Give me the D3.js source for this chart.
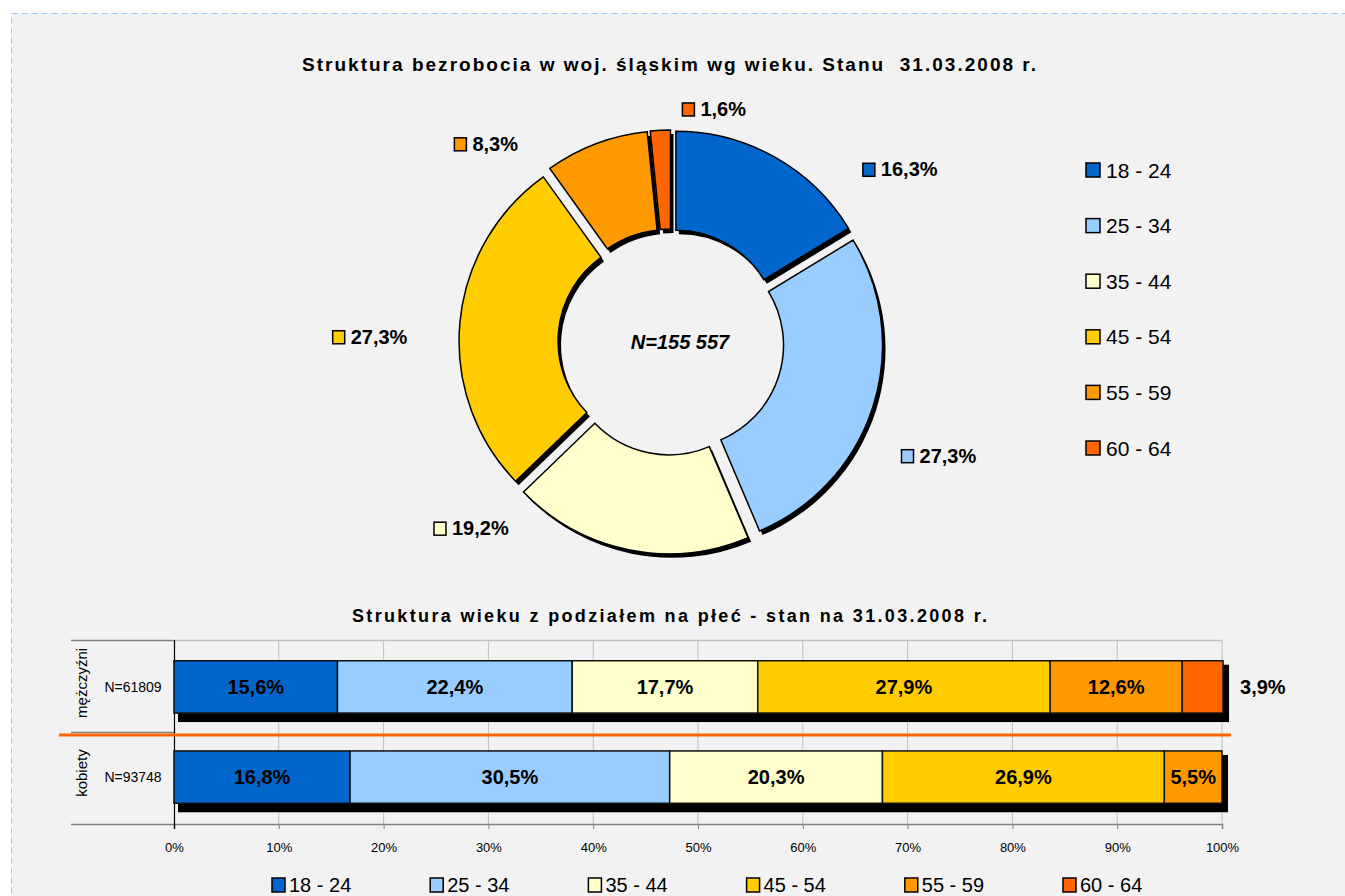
<!DOCTYPE html>
<html>
<head>
<meta charset="utf-8">
<script src="https://cdn.jsdelivr.net/npm/d3@7"></script>
<style>
  body { margin: 0; background: #fff; }
  svg { display: block; font-family: Arial, "Liberation Sans", Helvetica, sans-serif; }
</style>
</head>
<body>
<svg id="chart" width="1345" height="896"></svg>
<script>
//Data
var ageGroups = ["18 - 24", "25 - 34", "35 - 44", "45 - 54", "55 - 59", "60 - 64"];
var ageColors = ["#0066cc", "#99ccff", "#ffffcc", "#ffcc00", "#ff9900", "#ff6600"];
var totalShares = [16.3, 27.3, 19.2, 27.3, 8.3, 1.6];
var totalLabel = "N=155 557";
var sexes = ["mężczyźni", "kobiety"];
var sexCounts = ["N=61809", "N=93748"];
var menShares = [15.6, 22.4, 17.7, 27.9, 12.6, 3.9];
var womenShares = [16.8, 30.5, 20.3, 26.9, 5.5, 0];
var xTicks = [0, 10, 20, 30, 40, 50, 60, 70, 80, 90, 100];
var pieTitle = "Struktura bezrobocia w woj. śląskim wg wieku. Stanu  31.03.2008 r.";
var barTitle = "Struktura wieku z podziałem na płeć - stan na 31.03.2008 r.";

//Helpers
var fmt = v => d3.format(".1f")(v).replace(".", ",") + "%";
var color = d3.scaleOrdinal().domain(ageGroups).range(ageColors);

var svg = d3.select("#chart");

//Background panel with dashed border
svg.append("rect")
  .attr("x", 11.5).attr("y", 13.5)
  .attr("width", 1340).attr("height", 900)
  .style("fill", "#f2f2f2")
  .style("stroke", "#99c9ff")
  .style("stroke-dasharray", "6,4");

//Titles
function title(txt, cx, y, size, width) {
  svg.append("text")
    .attr("x", cx).attr("y", y)
    .attr("text-anchor", "middle")
    .attr("textLength", width)
    .attr("lengthAdjust", "spacing")
    .style("font-weight", "bold")
    .style("font-size", size + "px")
    .style("white-space", "pre")
    .text(txt);
}
title(pieTitle, 669, 71, 19, 734);
title(barTitle, 669.5, 622, 18, 635);

//---------------- Doughnut ----------------
var cx = 671, cy = 342, rOut = 202, rIn = 103, explode = 10;
var shadow = {dx: 3, dy: 4};

var pie = d3.pie().sort(null).value(d => d);
var arcs = pie(totalShares);
var arc = d3.arc().innerRadius(rIn).outerRadius(rOut);

var gPie = svg.append("g").attr("transform", "translate(" + cx + "," + cy + ")");

function offset(d) {
  var a = (d.startAngle + d.endAngle) / 2;
  return [explode * Math.sin(a), -explode * Math.cos(a)];
}

//Shadows first
gPie.selectAll(".shadow")
  .data(arcs)
  .enter()
  .append("path")
  .attr("class", "shadow")
  .attr("d", arc)
  .attr("transform", d => { var o = offset(d); return "translate(" + (o[0] + shadow.dx) + "," + (o[1] + shadow.dy) + ")"; })
  .style("fill", "#000");

//Slices
gPie.selectAll(".slice")
  .data(arcs)
  .enter()
  .append("path")
  .attr("class", "slice")
  .attr("d", arc)
  .attr("transform", d => { var o = offset(d); return "translate(" + o[0] + "," + o[1] + ")"; })
  .style("fill", (d, i) => ageColors[i])
  .style("stroke", "#000")
  .style("stroke-width", 1.5);

//Centre text
gPie.append("text")
  .attr("x", 9).attr("y", 7)
  .attr("text-anchor", "middle")
  .style("font-weight", "bold")
  .style("font-style", "italic")
  .style("font-size", "20px")
  .text(totalLabel);

//Slice labels (best-fit positions as angle in degrees / radius)
var labelSpots = [[53, 287], [113, 291], [227, 273], [271, 301], [317, 271], [10.5, 237]];

var lab = gPie.selectAll(".plabel")
  .data(arcs)
  .enter()
  .append("g")
  .attr("class", "plabel");

lab.append("text")
  .attr("x", 18)
  .attr("y", 7)
  .style("font-weight", "bold")
  .style("font-size", "20px")
  .text(d => fmt(d.data));

lab.insert("rect", "text")
  .attr("x", 0).attr("y", -6)
  .attr("width", 12).attr("height", 13)
  .style("fill", (d, i) => ageColors[i])
  .style("stroke", "#000")
  .style("stroke-width", 1.5);

lab.attr("transform", function(d, i) {
  var w = 18 + d3.select(this).select("text").node().getComputedTextLength();
  var a = labelSpots[i][0] * Math.PI / 180, r = labelSpots[i][1];
  return "translate(" + (r * Math.sin(a) - w / 2) + "," + (-r * Math.cos(a)) + ")";
});

//Right legend
var legR = svg.append("g").attr("transform", "translate(1086,170)");
var legRy = d3.scalePoint().domain(ageGroups).range([0, 278]);
var legRItems = legR.selectAll(".leg")
  .data(ageGroups)
  .enter()
  .append("g")
  .attr("transform", d => "translate(0," + legRy(d) + ")");
legRItems.append("rect")
  .attr("x", 0).attr("y", -7)
  .attr("width", 14).attr("height", 14)
  .style("fill", d => color(d))
  .style("stroke", "#000")
  .style("stroke-width", 1.5);
legRItems.append("text")
  .attr("x", 20).attr("y", 7.5)
  .style("font-size", "21px")
  .text(d => d);

//---------------- Stacked bars ----------------
var plot = {left: 174, right: 1222, top: 640, bottom: 824, labelLeft: 71};

var rows = sexes.map((s, i) => {
  var vals = i === 0 ? menShares : womenShares;
  var row = {sex: s, n: sexCounts[i]};
  ageGroups.forEach((g, j) => row[g] = vals[j]);
  return row;
});

var series = d3.stack().keys(ageGroups)(rows);

var xScale = d3.scaleLinear().domain([0, 100]).range([plot.left, plot.right]);
var yScale = d3.scaleBand()
  .domain(sexes)
  .range([plot.top, plot.bottom])
  .paddingInner(0.42)
  .paddingOuter(0.23);

//Gridlines
svg.append("g")
  .selectAll("line")
  .data(xTicks.slice(1))
  .enter()
  .append("line")
  .attr("x1", d => xScale(d)).attr("x2", d => xScale(d))
  .attr("y1", plot.top).attr("y2", plot.bottom)
  .style("stroke", "#c0c0c0");

svg.append("line")
  .attr("x1", plot.left).attr("x2", plot.right)
  .attr("y1", plot.top + 0.5).attr("y2", plot.top + 0.5)
  .style("stroke", "#c0c0c0").style("stroke-width", 1.5);

//Category frame lines on the left
[plot.top, (plot.top + plot.bottom) / 2, plot.bottom].forEach(y => {
  svg.append("line")
    .attr("x1", plot.labelLeft).attr("x2", plot.left)
    .attr("y1", y + 0.5).attr("y2", y + 0.5)
    .style("stroke", "#808080").style("stroke-width", 1.5);
});

//X axis
var xAxis = svg.append("g")
  .attr("transform", "translate(0," + plot.bottom + ")")
  .call(d3.axisBottom(xScale).tickValues(xTicks).tickFormat(d => d + "%").tickSize(5).tickPadding(14));
xAxis.select(".domain").style("stroke", "#808080").style("stroke-width", 1.5);
xAxis.selectAll(".tick line").style("stroke", "#808080");
xAxis.selectAll("text")
  .style("font-family", "Arial, 'Liberation Sans', sans-serif")
  .style("font-size", "13px")
  .style("fill", "#000");

//Y axis line
svg.append("line")
  .attr("x1", plot.left + 0.5).attr("x2", plot.left + 0.5)
  .attr("y1", plot.top).attr("y2", plot.bottom + 5)
  .style("stroke", "#000").style("stroke-width", 1.2);

//Bar shadows
svg.selectAll(".barShadow")
  .data(rows)
  .enter()
  .append("rect")
  .attr("x", xScale(0) + 4)
  .attr("y", d => yScale(d.sex) + 4)
  .attr("width", d => xScale(d3.sum(ageGroups, g => d[g])) - xScale(0) + 2)
  .attr("height", yScale.bandwidth() + 5)
  .style("fill", "#000");

//Segments
var layer = svg.selectAll(".layer")
  .data(series)
  .enter()
  .append("g")
  .attr("class", "layer")
  .style("fill", d => color(d.key));

layer.selectAll("rect")
  .data(d => d.filter(p => p[1] - p[0] > 0))
  .enter()
  .append("rect")
  .attr("x", p => xScale(p[0]))
  .attr("y", p => yScale(p.data.sex))
  .attr("width", p => xScale(p[1]) - xScale(p[0]))
  .attr("height", yScale.bandwidth())
  .style("stroke", "#111")
  .style("stroke-width", 1.5);

//Segment labels
series.forEach(s => {
  s.forEach(p => {
    var v = p[1] - p[0];
    if (v <= 0) return;
    var outside = v < 5;
    var lastEnd = d3.max(series, ss => ss.find(q => q.data.sex === p.data.sex)[1]);
    svg.append("text")
      .attr("x", outside ? xScale(lastEnd) + 17 : xScale((p[0] + p[1]) / 2))
      .attr("y", yScale(p.data.sex) + yScale.bandwidth() / 2 + 7)
      .attr("text-anchor", outside ? "start" : "middle")
      .style("font-weight", "bold")
      .style("font-size", "20px")
      .text(fmt(v));
  });
});

//Orange separator
svg.append("line")
  .attr("x1", 59).attr("x2", 1231)
  .attr("y1", (plot.top + plot.bottom) / 2 + 3).attr("y2", (plot.top + plot.bottom) / 2 + 3)
  .style("stroke", "#ff6600").style("stroke-width", 3);

//Category labels
rows.forEach(r => {
  var yc = yScale(r.sex) + yScale.bandwidth() / 2;
  svg.append("text")
    .attr("transform", "translate(87," + (yc - 4) + ") rotate(-90)")
    .attr("text-anchor", "middle")
    .style("font-size", "15px")
    .text(r.sex);
  svg.append("text")
    .attr("x", 133).attr("y", yc + 5)
    .attr("text-anchor", "middle")
    .style("font-size", "14px")
    .text(r.n);
});

//Bottom legend
var legB = svg.append("g").attr("transform", "translate(272,885)");
var legBx = d3.scalePoint().domain(ageGroups).range([0, 791]);
var legBItems = legB.selectAll(".legb")
  .data(ageGroups)
  .enter()
  .append("g")
  .attr("transform", d => "translate(" + legBx(d) + ",0)");
legBItems.append("rect")
  .attr("x", 0).attr("y", -7)
  .attr("width", 13).attr("height", 14)
  .style("fill", d => color(d))
  .style("stroke", "#000")
  .style("stroke-width", 1.5);
legBItems.append("text")
  .attr("x", 17).attr("y", 7)
  .style("font-size", "20px")
  .text(d => d);
</script>
</body>
</html>
